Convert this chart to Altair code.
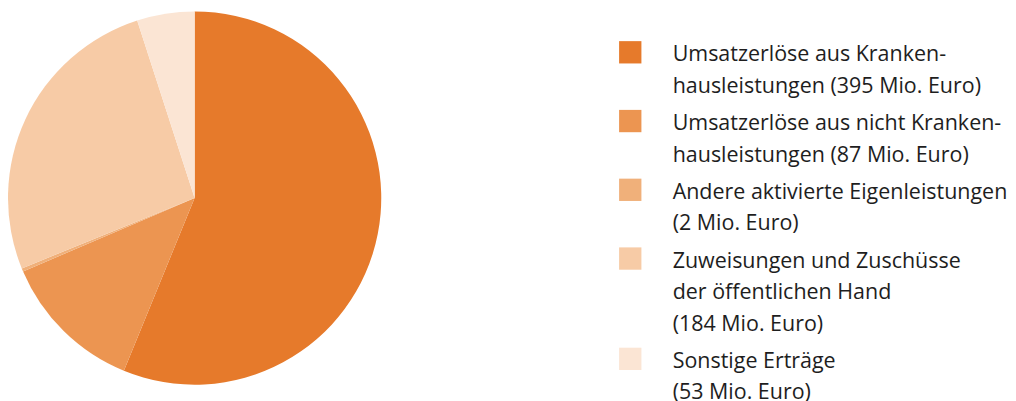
import altair as alt
import pandas as pd

categories = [
    "Umsatzerlöse aus Krankenhausleistungen",
    "Umsatzerlöse aus nicht Krankenhausleistungen",
    "Andere aktivierte Eigenleistungen",
    "Zuweisungen und Zuschüsse der öffentlichen Hand",
    "Sonstige Erträge",
]
# slice sizes as drawn in the picture (Mio. Euro)
slice_values = [395, 87, 2, 184, 35]
colors = ["#E67A2B", "#EC9551", "#F0B07A", "#F7CBA6", "#FBE5D4"]
legend_lines = [
    ["Umsatzerlöse aus Kranken-", "hausleistungen (395 Mio. Euro)"],
    ["Umsatzerlöse aus nicht Kranken-", "hausleistungen (87 Mio. Euro)"],
    ["Andere aktivierte Eigenleistungen", "(2 Mio. Euro)"],
    ["Zuweisungen und Zuschüsse", "der öffentlichen Hand", "(184 Mio. Euro)"],
    ["Sonstige Erträge", "(53 Mio. Euro)"],
]

pie_df = pd.DataFrame({"cat": categories, "value": slice_values, "order": list(range(len(slice_values)))})
color_scale = alt.Scale(domain=categories, range=colors)

pie = alt.Chart(pie_df).mark_arc(outerRadius=187).encode(
    theta=alt.Theta("value:Q", stack=True),
    color=alt.Color("cat:N", scale=color_scale, legend=None),
    order=alt.Order("order:Q"),
).properties(width=374, height=380)

# legend rows
GAP = 0.18
rows = []
squares = []
n = 0
for i, (cat, lines) in enumerate(zip(categories, legend_lines)):
    squares.append({"cat": cat, "pos": n + i * GAP})
    for ln in lines:
        rows.append({"cat": cat, "text": ln, "pos": n + i * GAP})
        n += 1
text_df = pd.DataFrame(rows)
sq_df = pd.DataFrame(squares)

yscale = alt.Scale(domain=[-1.392, 10.633], range=[0, 380], zero=False, nice=False)

sq = alt.Chart(sq_df).mark_square(size=500, opacity=1).encode(
    x=alt.value(249.5),
    y=alt.Y("pos:Q", scale=yscale, axis=None),
    color=alt.Color("cat:N", scale=color_scale, legend=None),
)
txt = alt.Chart(text_df).mark_text(
    align="left", baseline="middle", font="Open Sans", fontSize=21.5, color="#1e1e1e", dy=3
).encode(
    x=alt.value(292),
    y=alt.Y("pos:Q", scale=yscale, axis=None),
    text="text:N",
)
legend = alt.layer(sq, txt).properties(width=620, height=380)

chart = alt.hconcat(pie, legend, spacing=0).properties(padding=0).configure_view(stroke=None)
chart.save("out.html", embed_options={"renderer": "svg", "actions": False})
